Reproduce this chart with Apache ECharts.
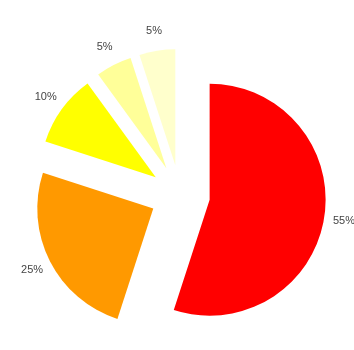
<!DOCTYPE html>
<html>
<head>
<meta charset="utf-8">
<script src="https://cdn.jsdelivr.net/npm/echarts@6/dist/echarts.min.js"></script>
<style>
  html, body { margin: 0; padding: 0; background: #fff; }
  #main { width: 354px; height: 350px; }
</style>
</head>
<body>
<div id="main"></div>
<script>
// slice values, in drawing order (clockwise from 12 o'clock)
const labels = ['55%', '25%', '10%', '5%', '5%'];
const values = [55, 25, 10, 5, 5];
const colors = ['#ff0000', '#ff9900', '#ffff00', '#ffff99', '#ffffcc'];

const center = [180, 195];
const offset = 30;

const chart = echarts.init(document.getElementById('main'), null, { renderer: 'canvas' });

const slices = values.map((v, i) => ({
  value: v,
  name: 'p' + i,
  selected: true,
  itemStyle: { color: colors[i] },
}));

// transparent ring, only used to place the labels centred beyond each slice
const ring = values.map((v, i) => ({
  value: v,
  name: 'p' + i,
  selected: true,
  label: { formatter: labels[i] },
}));

chart.setOption({
  animation: false,
  series: [
    {
      type: 'pie',
      center: center,
      radius: 116,
      startAngle: 90,
      clockwise: true,
      selectedMode: 'multiple',
      selectedOffset: offset,
      silent: true,
      label: { show: false },
      labelLine: { show: false },
      emphasis: { scale: false },
      data: slices,
    },
    {
      type: 'pie',
      center: center,
      radius: [123, 143],
      startAngle: 90,
      clockwise: true,
      selectedMode: 'multiple',
      selectedOffset: offset,
      silent: true,
      itemStyle: { color: 'rgba(0,0,0,0)' },
      label: {
        show: true,
        position: 'inside',
        color: '#444',
        fontFamily: 'Liberation Sans, Arial, sans-serif',
        fontSize: 11,
      },
      labelLine: { show: false },
      emphasis: { scale: false },
      data: ring,
    },
  ],
});
</script>
</body>
</html>
